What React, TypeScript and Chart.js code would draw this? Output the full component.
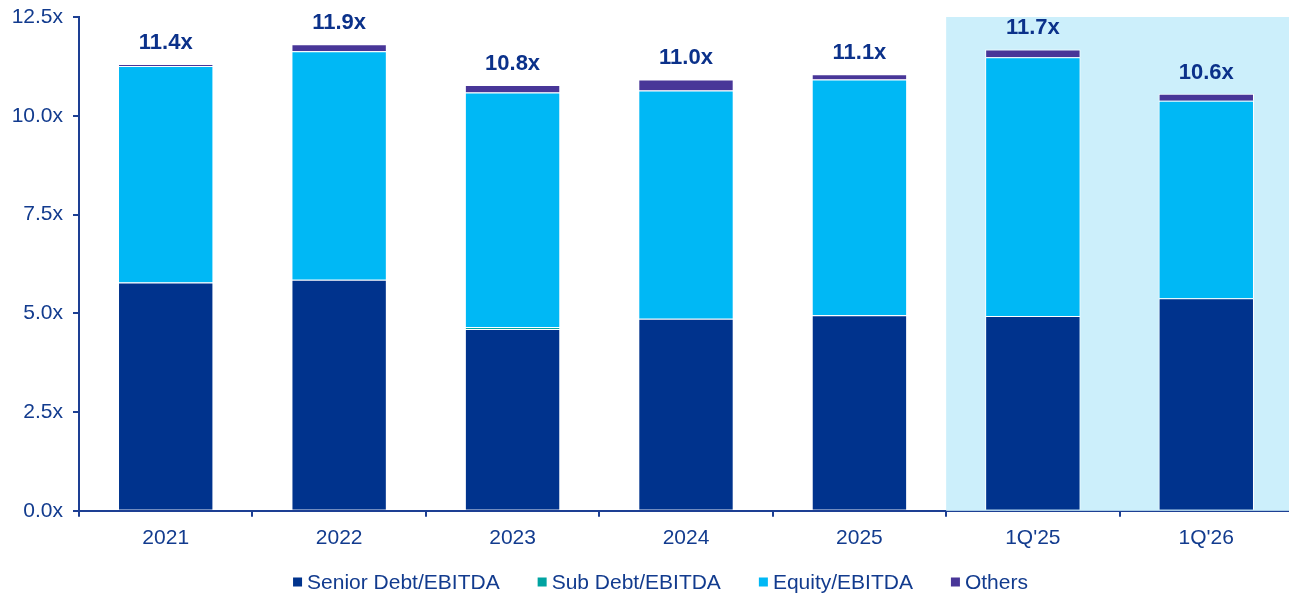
import React, { useEffect, useRef } from "react";
import { Chart, registerables } from "chart.js";

Chart.register(...registerables);

const categories = ["2021", "2022", "2023", "2024", "2025", "1Q'25", "1Q'26"];
const seniorDebt = [5.78, 5.85, 4.6, 4.86, 4.95, 4.93, 5.38];
const subDebt = [0, 0, 0.05, 0, 0, 0, 0];
const equity = [5.48, 5.78, 5.94, 5.78, 5.97, 6.55, 5.0];
const others = [0.05, 0.18, 0.19, 0.28, 0.13, 0.2, 0.18];
const totalLabels = ["11.4x", "11.9x", "10.8x", "11.0x", "11.1x", "11.7x", "10.6x"];
const yTicks = [0, 2.5, 5, 7.5, 10, 12.5];
const highlightFrom = 5;

const NAVY_TEXT = "#123B8E";
const AXIS = "#1D3F93";
const FAMILY = "'Liberation Sans', Arial, sans-serif";

export default function App() {
  const ref = useRef<HTMLCanvasElement | null>(null);

  useEffect(() => {
    if (!ref.current) return;
    const highlight = {
      id: "highlight",
      beforeDatasetsDraw(chart: any) {
        const { ctx, chartArea, scales } = chart;
        const x = scales.x;
        const left = (x.getPixelForValue(highlightFrom - 1) + x.getPixelForValue(highlightFrom)) / 2;
        ctx.save();
        ctx.fillStyle = "#CCEFFB";
        ctx.fillRect(left, chartArea.top, chart.width - left, chartArea.bottom - chartArea.top);
        ctx.restore();
      },
    };
    const totals = {
      id: "totals",
      afterDatasetsDraw(chart: any) {
        const { ctx, scales } = chart;
        ctx.save();
        ctx.font = `bold 22px ${FAMILY}`;
        ctx.fillStyle = "#0B318A";
        ctx.textAlign = "center";
        ctx.textBaseline = "middle";
        categories.forEach((_, i) => {
          const total = seniorDebt[i] + subDebt[i] + equity[i] + others[i];
          const px = scales.x.getPixelForValue(i);
          const py = scales.y.getPixelForValue(total) - 21;
          ctx.fillText(totalLabels[i], px, py);
        });
        ctx.restore();
      },
    };
    const legend = {
      id: "customLegend",
      afterDraw(chart: any) {
        const { ctx } = chart;
        const ds = chart.data.datasets;
        ctx.save();
        ctx.font = `21px ${FAMILY}`;
        ctx.textBaseline = "middle";
        ctx.textAlign = "left";
        const box = 9, gap = 5, spacing = 38;
        const widths = ds.map((d: any) => box + gap + ctx.measureText(d.label).width);
        const total = widths.reduce((a: number, b: number) => a + b, 0) + spacing * (ds.length - 1);
        let x = chart.width / 2 + 14 - total / 2;
        const y = 582;
        ds.forEach((d: any, i: number) => {
          ctx.fillStyle = d.backgroundColor;
          ctx.fillRect(x, y - box / 2, box, box);
          ctx.fillStyle = NAVY_TEXT;
          ctx.fillText(d.label, x + box + gap, y + 1);
          x += widths[i] + spacing;
        });
        ctx.restore();
      },
    };
    const font = { family: FAMILY, size: 21 };
    const common = { borderColor: "#FFFFFF", borderWidth: 1, barPercentage: 0.55, categoryPercentage: 1 };
    const chart = new Chart(ref.current, {
      type: "bar",
      data: {
        labels: categories,
        datasets: [
          { label: "Senior Debt/EBITDA", data: seniorDebt, backgroundColor: "#00338D", ...common },
          { label: "Sub Debt/EBITDA", data: subDebt, backgroundColor: "#00A3A1", ...common },
          { label: "Equity/EBITDA", data: equity, backgroundColor: "#00B8F5", ...common },
          { label: "Others", data: others, backgroundColor: "#483698", ...common },
        ],
      },
      options: {
        animation: false,
        responsive: true,
        maintainAspectRatio: false,
        layout: { padding: { top: 17, right: 0, left: 0, bottom: 34 } },
        plugins: {
          tooltip: { enabled: false },
          legend: { display: false },
        },
        scales: {
          x: {
            stacked: true,
            grid: { display: true, drawOnChartArea: false, drawTicks: true, tickLength: 6, color: AXIS, lineWidth: 2 },
            border: { display: true, color: AXIS, width: 2 },
            ticks: { color: NAVY_TEXT, font, padding: 9 },
          },
          y: {
            stacked: true,
            min: 0,
            max: 12.5,
            afterFit: (s: any) => { s.width = 79; s.paddingTop = 0; s.paddingBottom = 0; },
            afterBuildTicks: (s: any) => { s.ticks = yTicks.map((v) => ({ value: v })); },
            grid: { display: true, drawOnChartArea: false, drawTicks: true, tickLength: 6, color: AXIS, lineWidth: 2 },
            border: { display: true, color: AXIS, width: 2 },
            ticks: { color: NAVY_TEXT, font, padding: 10, callback: (v: any) => Number(v).toFixed(1) + "x" },
          },
        },
      },
      plugins: [highlight, totals, legend],
    });
    return () => chart.destroy();
  }, []);

  return (
    <div style={{ position: "absolute", left: 0, top: 0, width: 1289, height: 594, overflow: "hidden", background: "#FFFFFF" }}>
      <div style={{ position: "relative", width: 1293, height: 594 }}>
        <canvas ref={ref} />
      </div>
    </div>
  );
}
